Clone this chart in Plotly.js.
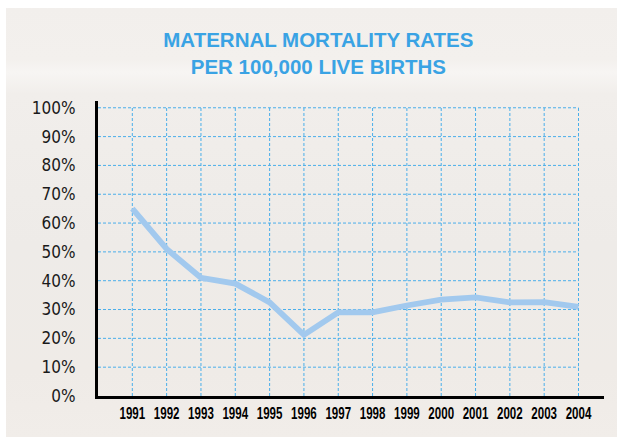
<!DOCTYPE html>
<html>
<head>
<meta charset="utf-8">
<script src="https://cdn.plot.ly/plotly-3.0.1.min.js"></script>
<style>
  html, body { margin: 0; padding: 0; background: #ffffff; }
  #wrap { position: relative; width: 617px; height: 441px; overflow: hidden; }
  #bg {
    position: absolute; left: 6px; top: 8px; width: 611px; height: 429px;
    background: linear-gradient(180deg, #f2efec 0%, #f3f0ed 12%, #f7f5f3 15%, #f1eeeb 20%, #eeebe8 55%, #efebe7 85%, #f1ede9 100%);
  }
  #chart { position: absolute; left: 0; top: 0; width: 617px; height: 441px; }
</style>
</head>
<body>
<div id="wrap">
  <div id="bg"></div>
  <div id="chart"></div>
</div>
<script>
// ---- data ----
const years = [1991, 1992, 1993, 1994, 1995, 1996, 1997, 1998, 1999, 2000, 2001, 2002, 2003, 2004];
const rates = [65, 51, 41, 39, 32.5, 21.2, 29, 29, 31.4, 33.4, 34.2, 32.5, 32.6, 30.9];
const yTicks = [0, 10, 20, 30, 40, 50, 60, 70, 80, 90, 100];
const yTickLabels = yTicks.map(v => v + '%');
const xTickLabels = years.map(String);
const titleLines = ['MATERNAL MORTALITY RATES', 'PER 100,000 LIVE BIRTHS'];

// ---- styling ----
const gridColor = '#4aaeea';
const lineColor = '#a2c9ee';
const titleColor = '#3aa3e4';
const xRange = [1990.0, 2004.743];
const yRange = [0, 102.35];
const xLabelSqueeze = 0.68;

const shapes = [];
years.forEach(yr => {
  shapes.push({type: 'line', xref: 'x', yref: 'y', x0: yr, x1: yr, y0: yTicks[0], y1: yTicks[yTicks.length - 1],
    line: {color: gridColor, width: 1, dash: '3px,2px'}, layer: 'below'});
});
yTicks.slice(1).forEach(t => {
  shapes.push({type: 'line', xref: 'x', yref: 'y', x0: xRange[0], x1: years[years.length - 1], y0: t, y1: t,
    line: {color: gridColor, width: 1, dash: '3px,2px'}, layer: 'below'});
});

const trace = {
  x: years, y: rates, type: 'scatter', mode: 'lines',
  line: {color: lineColor, width: 5.8},
  hoverinfo: 'skip'
};

const layout = {
  width: 617, height: 441,
  paper_bgcolor: 'rgba(0,0,0,0)',
  plot_bgcolor: 'rgba(0,0,0,0)',
  margin: {l: 98, r: 13, t: 100.7, b: 44.5},
  showlegend: false,
  title: {
    text: titleLines.join('<br>'),
    font: {family: 'Liberation Sans, Arial, sans-serif', size: 20.5, color: titleColor, weight: 700},
    xref: 'container', yref: 'container',
    x: 0.516, xanchor: 'center',
    y: 1 - 47 / 441, yanchor: 'top'
  },
  xaxis: {
    range: xRange, showgrid: false, zeroline: false,
    showline: true, linecolor: '#000000', linewidth: 3,
    tickmode: 'array', tickvals: years, ticktext: xTickLabels,
    ticks: '', ticklabelstandoff: 0, tickangle: 0,
    tickfont: {family: 'Liberation Sans, Arial, sans-serif', size: 17, color: '#000000', weight: 700}
  },
  yaxis: {
    range: yRange, showgrid: false, zeroline: false,
    showline: true, linecolor: '#000000', linewidth: 3,
    tickmode: 'array', tickvals: yTicks, ticktext: yTickLabels,
    ticks: '', ticklabelstandoff: 16,
    tickfont: {family: 'DejaVu Sans Condensed, DejaVu Sans, sans-serif', size: 17, color: '#1a1a1a'}
  },
  shapes: shapes
};

Plotly.newPlot('chart', [trace], layout, {displayModeBar: false, staticPlot: true}).then(gd => {
  // condense the bold year labels horizontally (reference uses a condensed face)
  gd.querySelectorAll('.xtick text').forEach(t => {
    const cx = parseFloat(t.getAttribute('x')) || 0;
    const tr = t.getAttribute('transform') || '';
    t.setAttribute('transform', tr + ' translate(' + cx + ',0) scale(' + xLabelSqueeze + ',1) translate(' + (-cx) + ',0)');
  });
});
</script>
</body>
</html>
